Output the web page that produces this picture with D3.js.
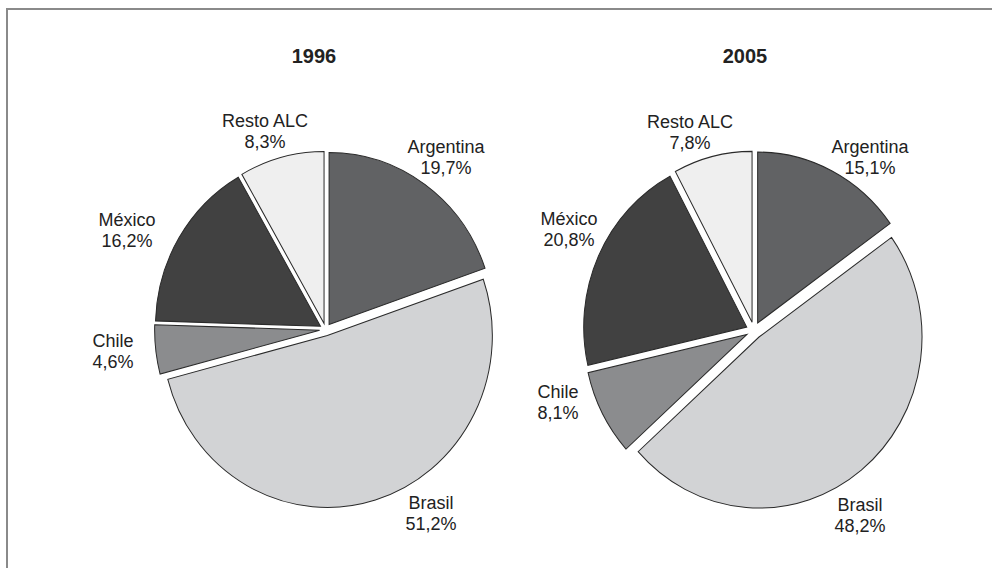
<!DOCTYPE html>
<html>
<head>
<meta charset="utf-8">
<script src="https://cdn.jsdelivr.net/npm/d3@7"></script>
<style>
  html, body { margin: 0; padding: 0; background: #fff; }
  svg { display: block; }
  text { font-family: "Liberation Sans", Arial, Helvetica, sans-serif; fill: #222; }
</style>
</head>
<body>
<svg id="chart" width="992" height="568"></svg>
<script>
// ---- data ----
const categories = ["Argentina", "Brasil", "Chile", "México", "Resto ALC"];
const years = ["1996", "2005"];
const values1996 = [19.7, 51.2, 4.6, 16.2, 8.3];
const values2005 = [15.1, 48.2, 8.1, 20.8, 7.8];
const valueLabels1996 = ["19,7%", "51,2%", "4,6%", "16,2%", "8,3%"];
const valueLabels2005 = ["15,1%", "48,2%", "8,1%", "20,8%", "7,8%"];

// ---- styles / layout (not data) ----
const fills = ["#616264", "#d2d3d5", "#8b8c8e", "#414141", "#efefef"];
const colorScale = d3.scaleOrdinal().domain(categories).range(fills);

const layouts = [
  { cx: 325.6, cy: 329.5, r: 165, sy: 1.042, explode: 6, titleX: 314,
    labels: [[446, 153], [431, 509], [113, 347], [127, 226], [265, 127]] },
  { cx: 754, cy: 330.5, r: 163, sy: 1.049, explode: 8, titleX: 745,
    labels: [[870, 153], [860, 511], [558, 398], [569, 225], [690, 128]] }
];

const svg = d3.select("#chart");

// frame (top and left edges visible)
svg.append("path")
  .attr("d", "M7,568 L7,9 L992,9")
  .attr("fill", "none")
  .attr("stroke", "#8a8a8a")
  .attr("stroke-width", 2);

const datasets = [
  { year: years[0], values: values1996, labels: valueLabels1996 },
  { year: years[1], values: values2005, labels: valueLabels2005 }
];

const pie = d3.pie().sort(null).value(d => d.value).startAngle(0).endAngle(2 * Math.PI);

datasets.forEach((ds, i) => {
  const L = layouts[i];
  const rows = categories.map((c, k) => ({ cat: c, value: ds.values[k], label: ds.labels[k] }));
  const arcs = pie(rows);
  const arc = d3.arc().innerRadius(0).outerRadius(L.r);

  // title
  svg.append("text")
    .attr("x", L.titleX)
    .attr("y", 63)
    .attr("text-anchor", "middle")
    .attr("font-size", 20)
    .attr("font-weight", "bold")
    .text(ds.year);

  const g = svg.append("g")
    .attr("transform", `translate(${L.cx},${L.cy}) scale(1,${L.sy})`);

  g.selectAll("path.slice")
    .data(arcs)
    .join("path")
    .attr("class", "slice")
    .attr("transform", d => {
      const a = (d.startAngle + d.endAngle) / 2;
      return `translate(${Math.sin(a) * L.explode},${-Math.cos(a) * L.explode})`;
    })
    .attr("d", arc)
    .attr("fill", d => colorScale(d.data.cat))
    .attr("stroke", "#2a2a2a")
    .attr("stroke-width", 1)
    .attr("stroke-linejoin", "miter");

  // labels
  arcs.forEach((d, k) => {
    const [lx, ly] = L.labels[k];
    const t = svg.append("text")
      .attr("x", lx)
      .attr("y", ly)
      .attr("text-anchor", "middle")
      .attr("font-size", 18);
    t.append("tspan").attr("x", lx).attr("dy", 0).text(d.data.cat);
    t.append("tspan").attr("x", lx).attr("dy", 21).text(d.data.label);
  });
});
</script>
</body>
</html>
